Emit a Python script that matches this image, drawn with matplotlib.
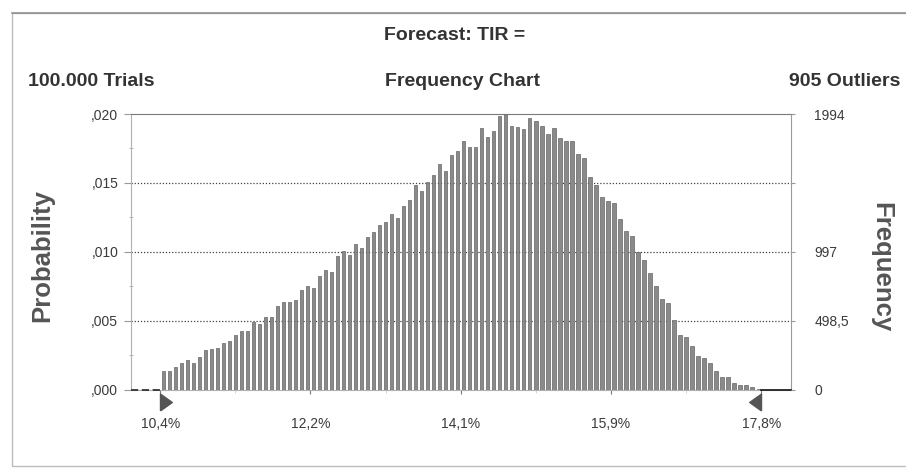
import numpy as np
import matplotlib
matplotlib.use("Agg")
import matplotlib.pyplot as plt
from matplotlib.patches import Rectangle
from matplotlib.transforms import blended_transform_factory

plt.rcParams['font.family'] = ['Liberation Sans', 'DejaVu Sans']

# forecast data (Crystal Ball frequency chart)
trials = 100000
outliers = 905
range_lo = 10.4
range_hi = 17.8
max_freq = 1994

# frequency per bin, 100 bins across the displayed range
frequency = [
    136, 136, 165, 194, 213, 194, 237, 286, 291, 298,
    339, 354, 395, 426, 426, 485, 475, 528, 528, 601,
    632, 632, 645, 717, 746, 734, 819, 863, 850, 969,
    1001, 976, 1056, 1025, 1102, 1139, 1187, 1214, 1267, 1243,
    1328, 1371, 1478, 1437, 1502, 1551, 1631, 1582, 1696, 1728,
    1800, 1757, 1757, 1890, 1829, 1873, 1977, 1994, 1904, 1902,
    1885, 1963, 1946, 1904, 1849, 1890, 1817, 1800, 1800, 1703,
    1672, 1541, 1480, 1396, 1364, 1347, 1236, 1146, 1110, 993,
    940, 843, 746, 654, 625, 504, 395, 378, 317, 245,
    225, 189, 136, 87, 87, 44, 31, 31, 15, 5,
]

x_labels = ["10,4%", "12,2%", "14,1%", "15,9%", "17,8%"]
prob_labels = [",000", ",005", ",010", ",015", ",020"]
freq_labels = ["0", "498,5", "997", "", "1994"]

freq = np.array(frequency)
prob = freq / trials
nbins = len(freq)
bin_w = (range_hi - range_lo) / nbins
centers = range_lo + (np.arange(nbins) + 0.5) * bin_w

fig = plt.figure(figsize=(9.06, 4.68), dpi=100)

# outer frame of the chart
fig.patches.append(Rectangle((12 / 906, 2 / 468), 1.0, 1 - 15 / 468, transform=fig.transFigure,
                             fill=False, edgecolor='#bdbdbd', linewidth=1.0, zorder=0))
fig.add_artist(plt.Line2D([12 / 906, 1.0], [1 - 13 / 468, 1 - 13 / 468], transform=fig.transFigure,
                          color='#8a8a8a', linewidth=1.1))

ax = fig.add_axes([130.7 / 906, 1 - 389.5 / 468, 660 / 906, 275.5 / 468])
pad = 29.5 / 81.2
ax.set_xlim(range_lo - pad, range_hi + pad)
ymax = max_freq / trials
ax.set_ylim(0, ymax)

# dotted grid lines
for q in [0.25, 0.5, 0.75]:
    ax.axhline(ymax * q, color='#404040', linewidth=0.9, linestyle=(0, (1, 1.5)), zorder=1)

ax.bar(centers, prob, width=bin_w * 0.56, color='#8a8a8a', edgecolor='#646464',
       linewidth=0.5, zorder=3)

# outlier zones on the base line
ax.plot([ax.get_xlim()[0], range_lo], [0, 0], color='#333333', linewidth=1.3,
        linestyle=(0, (4, 2)), zorder=4, clip_on=False)
ax.plot([range_hi, ax.get_xlim()[1]], [0, 0], color='#222222', linewidth=1.3, zorder=4,
        clip_on=False)

# end-point grabbers
tr = blended_transform_factory(ax.transData, ax.transAxes)
right_tri = [(0, -1), (0, 1), (1.4, 0), (0, -1)]
left_tri = [(0, -1), (0, 1), (-1.4, 0), (0, -1)]
ax.plot([range_lo], [-0.045], marker=right_tri, markersize=17, color='#555555',
        transform=tr, clip_on=False, linestyle='none')
ax.plot([range_hi], [-0.045], marker=left_tri, markersize=17, color='#555555',
        transform=tr, clip_on=False, linestyle='none')

for s in ['left', 'bottom']:
    ax.spines[s].set_color('#b0b0b0')
ax.spines['top'].set_color('#7a7a7a')
ax.spines['right'].set_color('#9a9a9a')

ax.set_xticks(np.linspace(range_lo, range_hi, 5))
ax.set_xticklabels(x_labels)
ax.set_xticks(np.linspace(range_lo, range_hi, 9), minor=True)
ax.tick_params(axis='x', which='major', length=3, pad=17, labelsize=10,
               labelcolor='#3a3a3a', color='#777777')
ax.tick_params(axis='x', which='minor', length=2, color='#cccccc')

ax.set_yticks(np.linspace(0, ymax, 5))
ax.set_yticklabels(prob_labels)
ax.set_yticks(np.linspace(0, ymax, 9), minor=True)
ax.tick_params(axis='y', which='major', length=5, pad=4, labelsize=10,
               labelcolor='#3a3a3a', color='#999999')
ax.tick_params(axis='y', which='minor', length=3, direction='inout', color='#aaaaaa')

ax2 = ax.twinx()
ax2.set_ylim(0, max_freq)
ax2.set_yticks(np.linspace(0, max_freq, 5))
ax2.set_yticklabels(freq_labels)
ax2.tick_params(axis='y', length=3, pad=14, labelsize=10, labelcolor='#3a3a3a',
                color='#999999')
for s in ax2.spines.values():
    s.set_visible(False)

# headings
fig.text(455 / 906, 1 - 36 / 468, "Forecast: TIR =", ha='center', va='center',
         fontsize=14, fontweight='bold', color='#333333')
fig.text(28 / 906, 1 - 81 / 468, "100.000 Trials", ha='left', va='center',
         fontsize=14, fontweight='bold', color='#333333')
fig.text(463 / 906, 1 - 81 / 468, "Frequency Chart", ha='center', va='center',
         fontsize=14, fontweight='bold', color='#333333')
fig.text(900 / 906, 1 - 81 / 468, "905 Outliers", ha='right', va='center',
         fontsize=14, fontweight='bold', color='#333333')

fig.text(42 / 906, 1 - 255 / 468, "Probability", rotation=90, ha='center', va='center',
         fontsize=18.5, fontweight='bold', color='#555555')
fig.text(881 / 906, 1 - 267 / 468, "Frequency", rotation=270, ha='center', va='center',
         fontsize=18.5, fontweight='bold', color='#555555')

fig.savefig("out.png", dpi=100, facecolor='white')
